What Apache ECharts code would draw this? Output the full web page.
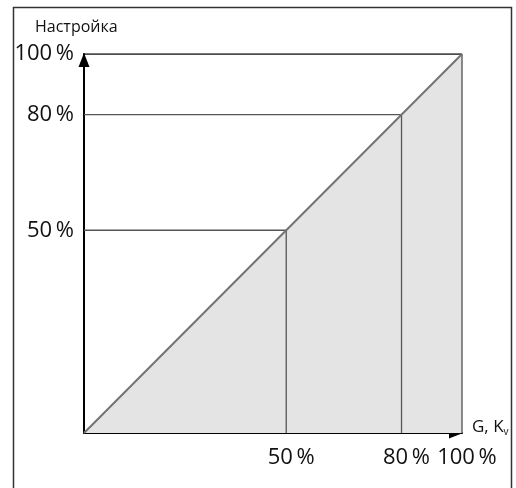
<!DOCTYPE html>
<html>
<head>
<meta charset="utf-8">
<script src="https://cdn.jsdelivr.net/npm/echarts@6/dist/echarts.min.js"></script>
<style>
  html, body { margin: 0; padding: 0; background: #fff; }
  #chart { width: 516px; height: 488px; }
</style>
</head>
<body>
<div id="chart"></div>
<script>
// уровни настройки и их положение на схеме (схема не в масштабе)
var levelLabels = ['50\u2009%', '80\u2009%', '100\u2009%'];
var levelPos = [53.5, 84, 100];
var diagonal = [[0, 0], [100, 100]];

var font = '"Open Sans", "Noto Sans", sans-serif';

function labelFor(v) {
  var i = levelPos.indexOf(v);
  return i >= 0 ? levelLabels[i] : '';
}

var series = [];
// заливка под диагональю
series.push({
  type: 'line',
  data: diagonal,
  showSymbol: false,
  lineStyle: { width: 0 },
  areaStyle: { color: '#e4e4e4', opacity: 1 },
  z: 1
});
// правая граница и верхняя линия
series.push({
  type: 'line',
  data: [[100, 0], [100, 100]],
  showSymbol: false,
  lineStyle: { color: '#666', width: 1.5 },
  z: 3
});
series.push({
  type: 'line',
  data: [[0, 100], [100, 100]],
  showSymbol: false,
  lineStyle: { color: '#111', width: 1.3 },
  z: 3
});
// вспомогательные линии 50% и 80%
for (var i = 0; i < 2; i++) {
  var p = levelPos[i];
  series.push({
    type: 'line',
    data: [[0, p], [p, p], [p, 0]],
    showSymbol: false,
    lineStyle: { color: '#555', width: 1.3 },
    z: 3
  });
}
// диагональ
series.push({
  type: 'line',
  data: diagonal,
  showSymbol: false,
  lineStyle: { color: '#737373', width: 2 },
  z: 4
});

var arrowLine = {
  lineStyle: { color: '#000', width: 2 },
  symbol: ['none', 'triangle'],
  symbolSize: [11, 14],
  symbolOffset: [0, -6]
};

var chart = echarts.init(document.getElementById('chart'));
chart.setOption({
  animation: false,
  title: {
    text: 'Настройка',
    left: 30,
    top: 14,
    textStyle: { fontFamily: font, fontSize: 16, fontWeight: 'normal', color: '#111' }
  },
  grid: { left: 84, right: 54, top: 54, bottom: 55, outerBoundsMode: 'none' },
  xAxis: {
    type: 'value',
    min: 0,
    max: 100,
    name: '{m|G, K}{s|v}',
    nameLocation: 'end',
    nameGap: 10,
    nameTextStyle: {
      padding: [0, 0, 12, 0],
      rich: {
        m: { fontFamily: font, fontSize: 17, color: '#111', lineHeight: 20 },
        s: { fontFamily: font, fontSize: 10, color: '#111', lineHeight: 10, verticalAlign: 'bottom' }
      }
    },
    axisLine: arrowLine,
    axisTick: { show: false },
    splitLine: { show: false },
    axisLabel: {
      customValues: levelPos,
      formatter: labelFor,
      margin: 14,
      padding: [0, 0, 0, 10],
      fontFamily: font,
      fontSize: 22,
      color: '#111'
    }
  },
  yAxis: {
    type: 'value',
    min: 0,
    max: 100,
    axisLine: arrowLine,
    axisTick: { show: false },
    splitLine: { show: false },
    axisLabel: {
      customValues: levelPos,
      formatter: labelFor,
      margin: 10,
      fontFamily: font,
      fontSize: 22,
      color: '#111'
    }
  },
  graphic: [{
    type: 'polyline',
    shape: { points: [[13.5, 492], [13.5, 7.5], [511.5, 7.5], [511.5, 492]] },
    style: { stroke: '#333', lineWidth: 1.5, fill: null },
    silent: true
  }],
  series: series
});
</script>
</body>
</html>
